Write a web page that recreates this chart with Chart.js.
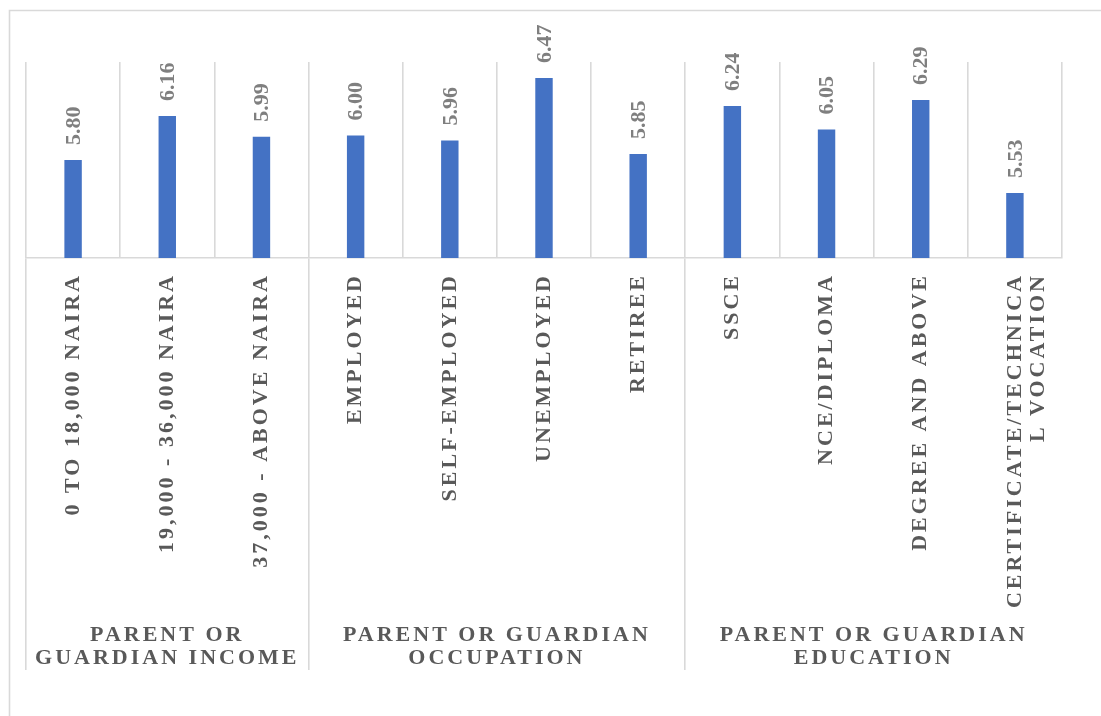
<!DOCTYPE html>
<html>
<head>
<meta charset="utf-8">
<script src="https://cdn.jsdelivr.net/npm/chart.js@4"></script>
<style>
  html, body { margin: 0; padding: 0; background: #fff; }
  #wrap { width: 1101px; height: 716px; position: relative; }
</style>
</head>
<body>
<div id="wrap"><canvas id="chart" width="1101" height="716"></canvas></div>
<script>
const categories = [
    '0 TO 18,000 NAIRA',
    '19,000 - 36,000 NAIRA',
    '37,000 - ABOVE NAIRA',
    'EMPLOYED',
    'SELF-EMPLOYED',
    'UNEMPLOYED',
    'RETIREE',
    'SSCE',
    'NCE/DIPLOMA',
    'DEGREE AND ABOVE',
    ['CERTIFICATE/TECHNICA', 'L VOCATION'],
];
const meanScores = [5.80, 6.16, 5.99, 6.00, 5.96, 6.47, 5.85, 6.24, 6.05, 6.29, 5.53];

const groupLabels = [
    ['PARENT OR', 'GUARDIAN INCOME'],
    ['PARENT OR GUARDIAN', 'OCCUPATION'],
    ['PARENT OR GUARDIAN', 'EDUCATION'],
];
// first and last category index of each group
const groupRanges = [[0, 2], [3, 6], [7, 10]];
// boundaries between category slots where the group dividers go
const groupBoundaries = [0, 3, 7, 11];

// the group axis runs on half-slots: 2 * categories + 1 positions, edge to edge
const groupSlots = new Array(categories.length * 2 + 1).fill('');
groupRanges.forEach((r, i) => {
    groupSlots[r[0] + r[1] + 1] = groupLabels[i];
});

const GRID = '#d9d9d9';
const LINE_W = 1.6;
const SERIF = '"Liberation Serif", "Times New Roman", serif';

// frame around the whole chart
const framePlugin = {
    id: 'frame',
    beforeDraw(chart) {
        const ctx = chart.ctx;
        ctx.save();
        ctx.strokeStyle = GRID;
        ctx.lineWidth = LINE_W;
        ctx.beginPath();
        ctx.moveTo(9.5, 2000);
        ctx.lineTo(9.5, 10.5);
        ctx.lineTo(2000, 10.5);
        ctx.stroke();
        ctx.restore();
        // axis text is drawn spaced out
        ctx.letterSpacing = '3px';
    },
    afterDraw(chart) {
        chart.ctx.letterSpacing = '0px';
    }
};

// value above every bar, turned upright
const valueLabels = {
    id: 'valueLabels',
    afterDatasetsDraw(chart) {
        const ctx = chart.ctx;
        const meta = chart.getDatasetMeta(0);
        ctx.save();
        ctx.letterSpacing = '0px';
        ctx.font = 'bold 22px ' + SERIF;
        ctx.fillStyle = '#7f7f7f';
        ctx.textAlign = 'left';
        ctx.textBaseline = 'middle';
        meta.data.forEach((bar, i) => {
            ctx.save();
            ctx.translate(bar.x + 1, bar.y - 15);
            ctx.rotate(-Math.PI / 2);
            ctx.fillText(meanScores[i].toFixed(2), 0, 0);
            ctx.restore();
        });
        ctx.restore();
    }
};

new Chart(document.getElementById('chart'), {
    type: 'bar',
    data: {
        labels: categories,
        datasets: [{
            data: meanScores,
            backgroundColor: '#4472c4',
            borderWidth: 0,
            categoryPercentage: 1,
            barPercentage: 0.185,
        }]
    },
    options: {
        responsive: false,
        animation: false,
        events: [],
        layout: { padding: { left: 26, right: 39, top: 62, bottom: 46 } },
        plugins: {
            legend: { display: false },
            tooltip: { enabled: false },
        },
        scales: {
            y: {
                display: false,
                min: 5,
                max: 6.6,
            },
            x: {
                position: 'bottom',
                offset: true,
                grid: {
                    offset: true,
                    color: GRID,
                    lineWidth: LINE_W,
                    tickWidth: LINE_W,
                    tickLength: 412,
                    tickColor: c => groupBoundaries.includes(c.index) ? GRID : 'rgba(0,0,0,0)',
                },
                border: { display: true, color: GRID, width: LINE_W },
                ticks: {
                    autoSkip: false,
                    minRotation: 90,
                    maxRotation: 90,
                    padding: -397,
                    color: '#595959',
                    font: { family: SERIF, size: 22, weight: 'bold', lineHeight: 1.05 },
                },
                afterFit(scale) { scale.height = 360; },
            },
            groups: {
                type: 'category',
                position: 'bottom',
                labels: groupSlots,
                offset: false,
                grid: { display: false, drawTicks: false },
                border: { display: false },
                ticks: {
                    autoSkip: false,
                    minRotation: 0,
                    maxRotation: 0,
                    padding: 6,
                    color: '#595959',
                    font: { family: SERIF, size: 22, weight: 'bold', lineHeight: 1.05 },
                },
                afterFit(scale) { scale.height = 52; },
            }
        }
    },
    plugins: [framePlugin, valueLabels]
});
</script>
</body>
</html>
